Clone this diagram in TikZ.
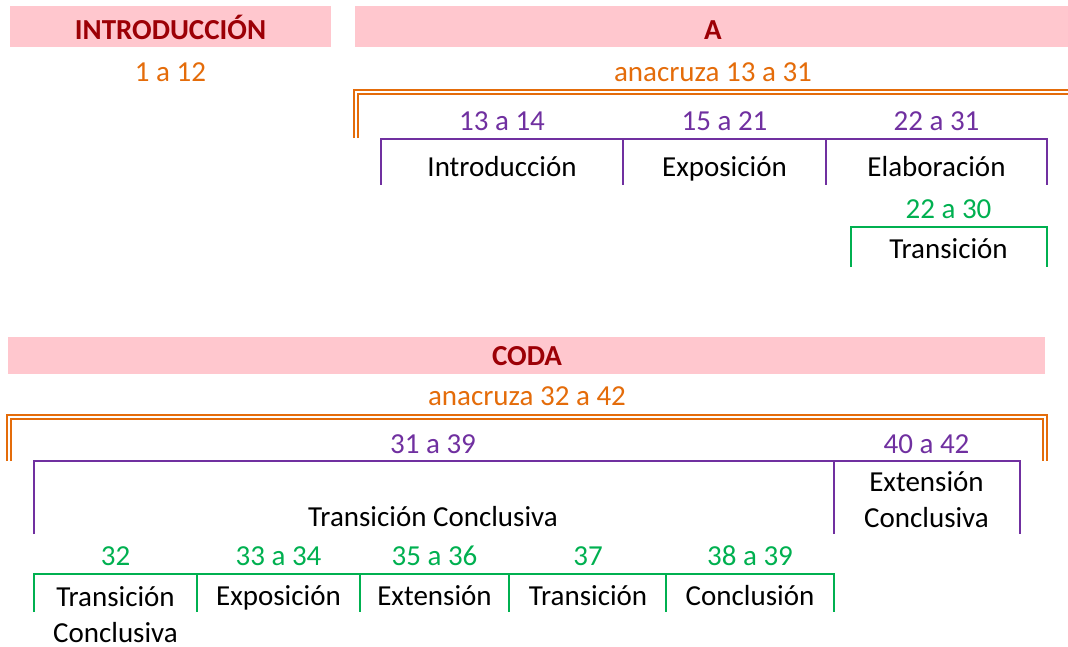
\documentclass[tikz,border=0pt]{standalone}
\usepackage{fontspec}
\setmainfont{Carlito}
\definecolor{pinkbg}{HTML}{FFC7CE}
\definecolor{darkred}{HTML}{9C0006}
\definecolor{orng}{HTML}{E46C0A}
\definecolor{purp}{HTML}{7030A0}
\definecolor{grn}{HTML}{00B050}
\begin{document}
\begin{tikzpicture}[x=1pt,y=-1pt,
  txt/.style={anchor=base,inner sep=0pt,font=\fontsize{29}{36}\selectfont,align=center},
  hdr/.style={txt,text=darkred,font=\fontsize{29}{36}\selectfont\bfseries},
  bar/.style={fill=pinkbg,draw=none},
  olbl/.style={txt,text=orng},
  plbl/.style={txt,text=purp},
  glbl/.style={txt,text=grn},
  oline/.style={draw=orng,line width=2pt},
  pline/.style={draw=purp,line width=1.8pt},
  gline/.style={draw=grn,line width=1.8pt}]
\useasboundingbox (0,0) rectangle (1068,646);
% header bars
\fill[bar] (10,6) rectangle (331,46.5);
\fill[bar] (355,6) rectangle (1068,46.5);
\fill[bar] (8,337) rectangle (1045,374);
\node[hdr] (hintro) at (170.5,39) {INTRODUCCIÓN};
\node[hdr] (ha) at (713,39) {A};
\node[hdr] (hcoda) at (527,365) {CODA};
% orange labels
\node[olbl] (o1) at (170.5,81) {1 a 12};
\node[olbl] (o2) at (713,81) {anacruza 13 a 31};
\node[olbl] (o3) at (527,405) {anacruza 32 a 42};
% top orange double bracket
\draw[oline] (354,138) |- (1068,89.5);
\draw[oline] (357.5,138) |- (1068,93.5);
% top purple
\node[plbl] (p1) at (502,130) {13 a 14};
\node[plbl] (p2) at (724.5,130) {15 a 21};
\node[plbl] (p3) at (936.5,130) {22 a 31};
\coordinate (pa) at (381,139);
\coordinate (pb) at (623,139);
\coordinate (pc) at (826,139);
\coordinate (pd) at (1047,139);
\draw[pline] (381,184.5) -- (pa) -- (pd) -- (1047,184.5);
\draw[pline] (pb) -- (623,184.5);
\draw[pline] (pc) -- (826,184.5);
\node[txt] (t1) at (502,176) {Introducción};
\node[txt] (t2) at (724.5,176) {Exposición};
\node[txt] (t3) at (936.5,176) {Elaboración};
% top green
\node[glbl] (g0) at (948.5,218) {22 a 30};
\coordinate (ga) at (851,227);
\coordinate (gb) at (1047,227);
\draw[gline] (851,267) -- (ga) -- (gb) -- (1047,267);
\node[txt] (t4) at (948.5,258) {Transición};
% bottom orange double bracket
\draw[oline] (6.5,461) |- (1046.5,414.5) -- (1046.5,461);
\draw[oline] (11,461) |- (1042.5,418.5) -- (1042.5,461);
% bottom purple
\node[plbl] (p4) at (433,453) {31 a 39};
\node[plbl] (p5) at (926.5,453) {40 a 42};
\coordinate (qa) at (34,461);
\coordinate (qb) at (834,461);
\coordinate (qc) at (1020,461);
\draw[pline] (34,534) -- (qa) -- (qc) -- (1020,534);
\draw[pline] (qb) -- (834,534);
\node[txt] (t5) at (433,526) {Transición Conclusiva};
\node[txt] (t6) at (926.5,527) {Extensión\\Conclusiva};
% bottom green
\node[glbl] (g1) at (115.5,565) {32};
\node[glbl] (g2) at (278.5,565) {33 a 34};
\node[glbl] (g3) at (434.5,565) {35 a 36};
\node[glbl] (g4) at (588,565) {37};
\node[glbl] (g5) at (750,565) {38 a 39};
\coordinate (ha0) at (34,574);
\coordinate (ha1) at (197,574);
\coordinate (ha2) at (360,574);
\coordinate (ha3) at (509,574);
\coordinate (ha4) at (666,574);
\coordinate (ha5) at (834,574);
\draw[gline] (34,612) -- (ha0) -- (ha5) -- (834,612);
\foreach \c/\x in {ha1/197,ha2/360,ha3/509,ha4/666} \draw[gline] (\c) -- (\x,612);
\node[txt] (t7) at (115.5,642) {Transición\\Conclusiva};
\node[txt] (t8) at (278.5,605) {Exposición};
\node[txt] (t9) at (434.5,605) {Extensión};
\node[txt] (t10) at (588,605) {Transición};
\node[txt] (t11) at (750,605) {Conclusión};
\end{tikzpicture}
\end{document}
